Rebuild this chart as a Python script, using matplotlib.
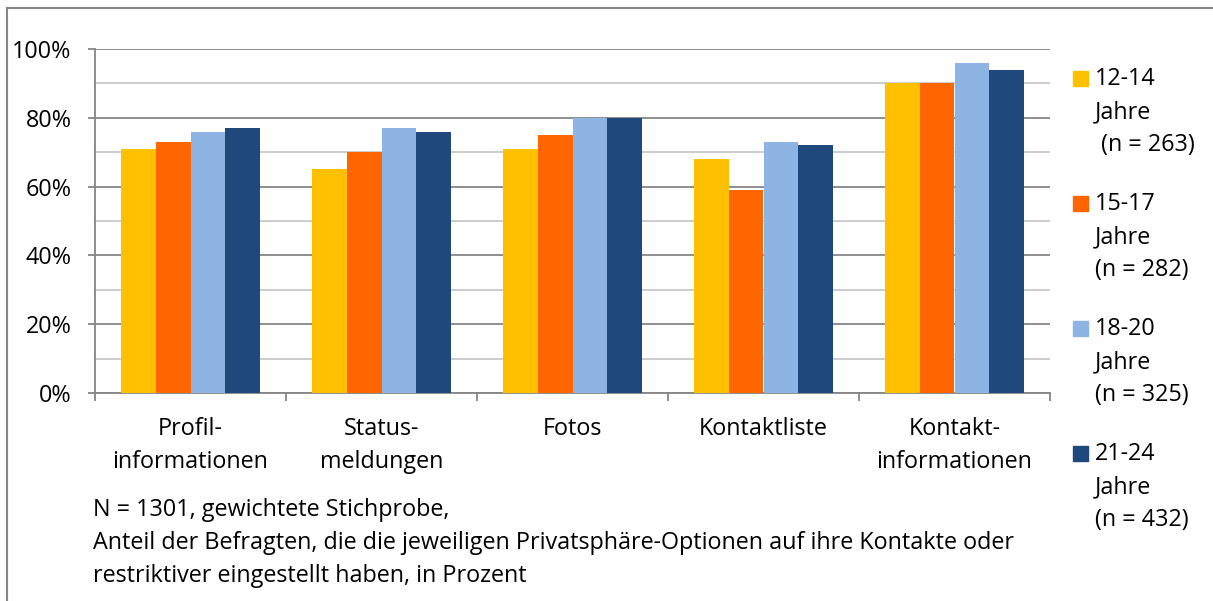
import matplotlib.pyplot as plt
import numpy as np
from matplotlib.patches import Rectangle
from matplotlib.lines import Line2D

plt.rcParams['font.family'] = ['Open Sans', 'DejaVu Sans']

kategorien = ["Profil-\ninformationen", "Status-\nmeldungen", "Fotos", "Kontaktliste", "Kontakt-\ninformationen"]
gruppen = ["12-14\nJahre\n (n = 263)", "15-17\nJahre\n(n = 282)", "18-20\nJahre\n(n = 325)", "21-24\nJahre\n(n = 432)"]
werte_12_14 = [71, 65, 71, 68, 90]
werte_15_17 = [73, 70, 75, 59, 90]
werte_18_20 = [76, 77, 80, 73, 96]
werte_21_24 = [77, 76, 80, 72, 94]
farben = ["#FFC000", "#FF6600", "#8EB4E3", "#1F497D"]
notiz = ("N = 1301, gewichtete Stichprobe,\n"
         "Anteil der Befragten, die die jeweiligen Privatsphäre-Optionen auf ihre Kontakte oder\n"
         "restriktiver eingestellt haben, in Prozent")

W, H = 1213, 601
FS = 16.8
ZEILE = 33  # Zeilenabstand in Pixel

fig = plt.figure(figsize=(W / 100, H / 100), dpi=100)
ax = fig.add_axes([95 / W, 1 - 393 / H, 955 / W, 344 / H])


def zeilen(x_px, y_px, text, ha='left'):
    # jede Zeile einzeln auf ihre Grundlinie setzen
    for k, z in enumerate(text.split("\n")):
        fig.text(x_px / W, 1 - (y_px + k * ZEILE) / H, z, ha=ha, va='baseline', fontsize=FS)


x = np.arange(len(kategorien))
breite = 0.182
for i, werte in enumerate([werte_12_14, werte_15_17, werte_18_20, werte_21_24]):
    ax.bar(x + (i - 1.5) * breite, werte, breite, color=farben[i], zorder=3)

ax.set_xlim(-0.5, len(kategorien) - 0.5)
ax.set_ylim(0, 100)
ax.set_yticks(np.arange(0, 101, 20))
ax.set_yticklabels([f"{v}%" for v in range(0, 101, 20)], fontsize=FS)
ax.set_yticks(np.arange(10, 100, 20), minor=True)
ax.tick_params(axis='y', which='major', length=5, color='#868686', width=1.3, pad=12)
ax.tick_params(axis='y', which='minor', length=0)
ax.grid(axis='y', which='major', color='#868686', lw=1.3, zorder=1)
ax.grid(axis='y', which='minor', color='#C8C8C8', lw=1.3, zorder=1)

ax.set_xticks(np.arange(-0.5, len(kategorien)))
ax.set_xticklabels([])
ax.tick_params(axis='x', length=6, color='#868686', width=1.3)

for s in ['top', 'right']:
    ax.spines[s].set_visible(False)
for s in ['left', 'bottom']:
    ax.spines[s].set_color('#868686')
    ax.spines[s].set_linewidth(1.3)

# Kategorienamen unter der Achse
mitte_px = 95 + (x + 0.5) * 955 / len(kategorien)
for xm, lab in zip(mitte_px, kategorien):
    zeilen(xm, 435, lab, ha='center')

# Legende
for i, (g, f) in enumerate(zip(gruppen, farben)):
    y0 = 85 + i * 125
    fig.patches.append(Rectangle((1073 / W, 1 - (y0 + 1) / H), 15 / W, 15 / H,
                                 transform=fig.transFigure, color=f))
    zeilen(1095, y0, g)

zeilen(93, 516, notiz)

# Rahmen nur oben und links sichtbar
fig.add_artist(Line2D([7 / W, 1], [1 - 7.5 / H, 1 - 7.5 / H], transform=fig.transFigure,
                      color='#868686', lw=1.5))
fig.add_artist(Line2D([7 / W, 7 / W], [0, 1 - 7.5 / H], transform=fig.transFigure,
                      color='#868686', lw=1.5))

fig.savefig("out.png", dpi=100)
